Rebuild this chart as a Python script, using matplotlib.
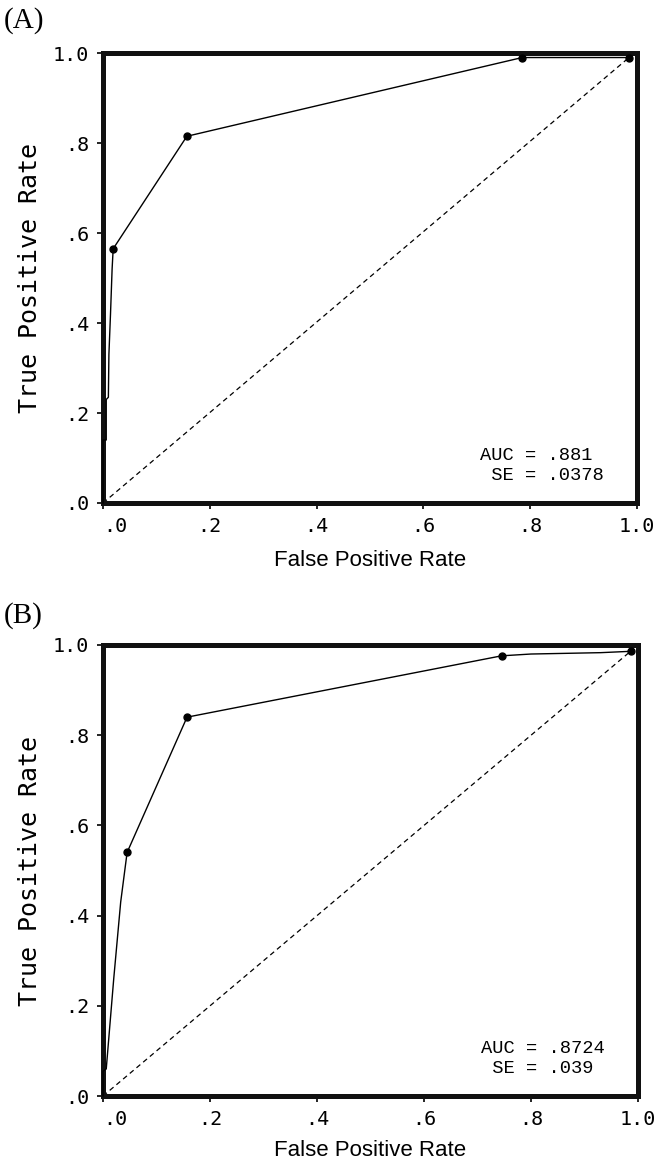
import matplotlib
matplotlib.use('Agg')
from matplotlib import pyplot as plt

# ROC curve points
A_fpr = [0.0, 0.0, 0.006, 0.006, 0.010, 0.011, 0.014, 0.017, 0.019, 0.157, 0.785, 0.985]
A_tpr = [0.0, 0.14, 0.14, 0.23, 0.235, 0.33, 0.42, 0.52, 0.565, 0.815, 0.99, 0.99]
A_marks = [8, 9, 10, 11]
A_diag = [0.0, 0.985]
A_diag_y = [0.0, 0.99]
A_auc = ".881"
A_se = ".0378"

B_fpr = [0.0, 0.0, 0.006, 0.02, 0.033, 0.045, 0.157, 0.745, 0.80, 0.93, 0.986]
B_tpr = [0.0, 0.055, 0.06, 0.26, 0.43, 0.54, 0.84, 0.976, 0.98, 0.983, 0.986]
B_marks = [5, 6, 7, 10]
B_diag = [0.0, 0.986]
B_diag_y = [0.0, 0.986]
B_auc = ".8724"
B_se = ".039"

ticks = [0.0, 0.2, 0.4, 0.6, 0.8, 1.0]
tick_labels = ['.0', '.2', '.4', '.6', '.8', '1.0']

MONO = 'DejaVu Sans Mono'

fig = plt.figure(figsize=(6.66, 11.63), dpi=100)
ax_a = fig.add_axes([0.1547, 0.5675, 0.8018, 0.3869])
ax_b = fig.add_axes([0.1547, 0.0576, 0.8033, 0.3878])

panels = [
    (ax_a, A_fpr, A_tpr, A_marks, A_diag, A_diag_y, A_auc, A_se, '(A)', 0.982, 10),
    (ax_b, B_fpr, B_tpr, B_marks, B_diag, B_diag_y, B_auc, B_se, '(B)', 0.471, 8),
]

for ax, fpr, tpr, marks, dx, dy, auc, se, tag, tag_y, xpad in panels:
    ax.plot(dx, dy, color='k', lw=0.9, ls=(0, (4, 3)), clip_on=False)
    ax.plot(fpr, tpr, color='k', lw=1.0, marker='o', ms=5,
            markevery=marks, clip_on=False, zorder=3)
    ax.set_xlim(0, 1)
    ax.set_ylim(0, 1)
    for s in ax.spines.values():
        s.set_linewidth(3.6)
        s.set_color('#111111')
    ax.set_xticks(ticks)
    ax.set_yticks(ticks)
    ax.set_xticklabels(tick_labels, family=MONO, fontsize=14.5)
    ax.set_yticklabels(tick_labels, family=MONO, fontsize=14.5)
    ax.get_xticklabels()[0].set_ha('left')
    ax.tick_params(length=4, width=1.2, pad=6)
    ax.set_xlabel('False Positive Rate', family='Liberation Sans', fontsize=16, labelpad=xpad)
    ax.set_ylabel('True Positive Rate', family=MONO, fontsize=18, labelpad=8)
    ax.text(0.706, 0.083, 'AUC = ' + auc + '\n SE = ' + se, transform=ax.transAxes,
            family='Liberation Mono', fontsize=13.5, ha='left', va='center',
            linespacing=1.2)
    fig.text(0.006, tag_y, tag, family='Liberation Serif', fontsize=21,
             ha='left', va='center')

fig.savefig('out.png', dpi=100)
